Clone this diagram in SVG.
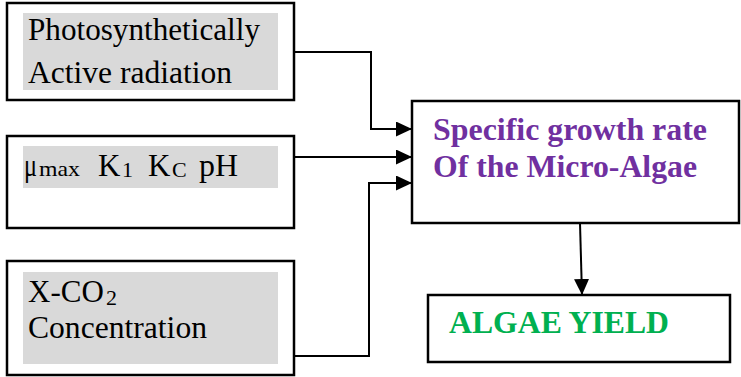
<svg xmlns="http://www.w3.org/2000/svg" width="741" height="377" viewBox="0 0 741 377">
<defs>
<style>
.box{fill:#fff;stroke:#000;stroke-width:2.5}
.hl{fill:#d9d9d9}
.t{font-family:"Liberation Serif","Times New Roman",serif;font-size:31px;fill:#000}
.sub{font-size:22px}
.b{font-family:"Liberation Serif","Times New Roman",serif;font-size:32px;font-weight:bold}
.purple{fill:#7030a0}
.green{fill:#00b050}
.c{fill:none;stroke:#000;stroke-width:2}
</style>
<marker id="ah" viewBox="0 0 16 15" refX="16" refY="7.5" markerWidth="16" markerHeight="15" markerUnits="userSpaceOnUse" orient="auto">
<path d="M0,0 L16,7.5 L0,15 Z" fill="#000"/>
</marker>
</defs>
<rect width="741" height="377" fill="#fff"/>
<g id="par">
<rect class="box" x="7" y="3" width="287" height="97"/>
<rect class="hl" x="23" y="13" width="255" height="77"/>
<text class="t" x="28" y="40" textLength="232" lengthAdjust="spacingAndGlyphs">Photosynthetically</text>
<text class="t" x="28" y="83" textLength="204" lengthAdjust="spacingAndGlyphs">Active radiation</text>
</g>
<g id="params">
<rect class="box" x="7" y="136" width="287" height="92"/>
<rect class="hl" x="23" y="146" width="255" height="42"/>
<text class="t" x="24" y="176" textLength="13" lengthAdjust="spacingAndGlyphs">μ</text>
<text class="t sub" x="39" y="176" textLength="41" lengthAdjust="spacingAndGlyphs">max</text>
<text class="t" x="98" y="176">K</text>
<text class="t sub" x="122" y="177">1</text>
<text class="t" x="148" y="176">K</text>
<text class="t sub" x="172" y="177">C</text>
<text class="t" x="199" y="176" textLength="39" lengthAdjust="spacingAndGlyphs">pH</text>
</g>
<g id="co2">
<rect class="box" x="7" y="261" width="287" height="114"/>
<rect class="hl" x="23" y="272" width="255" height="92"/>
<text class="t" x="28" y="302">X-CO<tspan x="106" y="305" font-size="22">2</tspan></text>
<text class="t" x="28" y="338" textLength="179" lengthAdjust="spacingAndGlyphs">Concentration</text>
</g>
<g id="growth">
<rect class="box" x="412" y="101" width="327" height="122"/>
<text class="b purple" x="433" y="140" textLength="274" lengthAdjust="spacingAndGlyphs">Specific growth rate</text>
<text class="b purple" x="433" y="177" textLength="264" lengthAdjust="spacingAndGlyphs">Of the Micro-Algae</text>
</g>
<g id="yield">
<rect class="box" x="428" y="295" width="302" height="67"/>
<text class="b green" x="449" y="333" textLength="220" lengthAdjust="spacingAndGlyphs">ALGAE YIELD</text>
</g>
<g id="connectors">
<polyline class="c" points="294,52 371,52 371,129 412,129" marker-end="url(#ah)"/>
<line class="c" x1="294" y1="157" x2="412" y2="157" marker-end="url(#ah)"/>
<polyline class="c" points="294,356 369,356 369,183 412,183" marker-end="url(#ah)"/>
<line class="c" x1="580" y1="223" x2="582" y2="295" marker-end="url(#ah)"/>
</g>
</svg>
